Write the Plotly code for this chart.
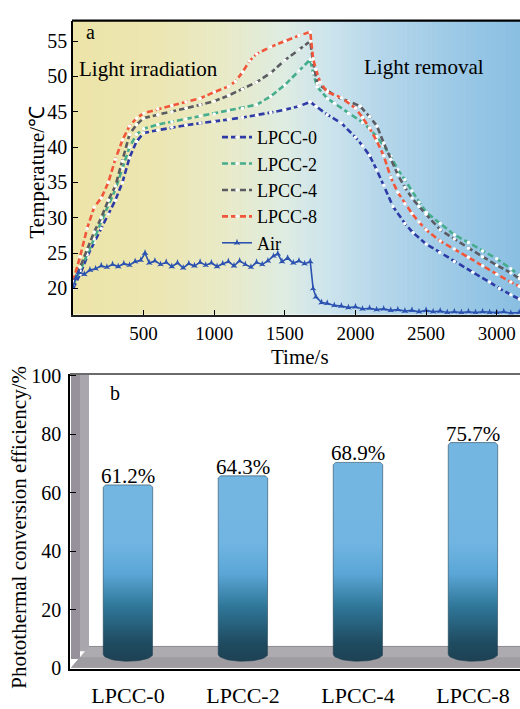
import numpy as np
import plotly.graph_objects as go

W, H = 520, 709
FONT = "Liberation Serif"


def px(x):
    return x / W


def py(y):
    return 1 - y / H


# ---------------- data: panel a ----------------
lpcc0_t = [0, 50, 100, 150, 200, 250, 300, 350, 400, 450, 500, 600, 700, 800, 900, 1000, 1100, 1200,
           1300, 1400, 1500, 1600, 1680, 1720, 1800, 1900, 2000, 2050, 2100, 2150, 2200, 2266, 2350,
           2407, 2500, 2597, 2700, 2830, 2950, 3020, 3100, 3160]
lpcc0_T = [20.0, 22.0, 24.5, 26.5, 28.5, 30.5, 32.5, 35.0, 38.5, 40.8, 42.0, 42.4, 42.8, 43.1, 43.4,
           43.6, 43.9, 44.2, 44.5, 44.9, 45.3, 45.8, 46.4, 45.8, 44.6, 43.4, 41.4, 40.2, 38.8, 36.8,
           34.6, 31.6, 29.2, 27.9, 26.3, 25.1, 23.8, 22.3, 20.9, 20.0, 19.1, 18.5]

lpcc2_t = [0, 50, 100, 150, 200, 250, 300, 350, 400, 450, 500, 600, 700, 800, 900, 1000, 1100, 1200,
           1300, 1400, 1500, 1600, 1680, 1700, 1730, 1800, 1850, 1950, 2050, 2100, 2150, 2200, 2250,
           2300, 2350, 2400, 2450, 2500, 2600, 2700, 2800, 2900, 3000, 3100, 3160]
lpcc2_T = [20.5, 22.5, 24.8, 27.0, 29.5, 31.8, 34.0, 37.0, 40.0, 41.8, 42.6, 43.2, 43.6, 44.0, 44.4,
           44.7, 45.1, 45.5, 46.0, 47.2, 48.8, 50.8, 52.4, 50.5, 48.5, 46.9, 46.2, 44.8, 43.5, 42.6,
           41.5, 40.2, 38.7, 36.8, 35.4, 33.8, 32.2, 30.8, 29.2, 27.6, 26.5, 25.3, 24.2, 22.8, 21.9]

lpcc4_t = [0, 50, 100, 150, 200, 250, 300, 350, 400, 450, 500, 600, 700, 800, 900, 1000, 1100, 1200,
           1300, 1400, 1500, 1600, 1680, 1700, 1730, 1800, 1870, 1950, 2033, 2100, 2152, 2200, 2250,
           2300, 2350, 2400, 2450, 2500, 2600, 2700, 2800, 2900, 3000, 3100, 3160]
lpcc4_T = [21.0, 23.0, 25.5, 28.0, 30.0, 32.5, 34.5, 38.0, 41.8, 43.2, 44.1, 44.6, 45.0, 45.5, 46.0,
           46.5, 47.3, 48.2, 49.2, 50.5, 52.3, 53.8, 55.0, 52.0, 49.0, 48.0, 47.1, 46.5, 45.8, 44.3,
           43.0, 40.6, 38.3, 36.1, 34.3, 32.8, 31.6, 30.5, 28.3, 27.0, 25.7, 24.5, 23.3, 22.2, 21.4]

lpcc8_t = [0, 50, 100, 150, 200, 250, 300, 350, 400, 450, 500, 600, 700, 800, 900, 1000, 1100, 1150,
           1200, 1250, 1300, 1400, 1500, 1600, 1680, 1700, 1720, 1750, 1800, 1900, 2000, 2050, 2100,
           2150, 2200, 2250, 2300, 2350, 2400, 2450, 2500, 2600, 2700, 2800, 2900, 3000, 3100, 3160]
lpcc8_T = [21.0, 24.5, 28.5, 31.5, 32.8, 35.0, 38.3, 41.0, 43.0, 44.1, 44.8, 45.4, 45.9, 46.4, 46.9,
           47.8, 48.6, 49.3, 50.6, 52.2, 53.2, 54.2, 55.0, 55.8, 56.3, 52.5, 51.0, 49.2, 47.8, 47.0,
           45.5, 44.2, 42.7, 40.9, 38.8, 35.7, 33.6, 32.0, 30.6, 29.4, 28.3, 26.7, 25.6, 24.4, 23.2,
           22.0, 20.9, 20.3]

air_t = [0, 20, 40, 80, 120, 160, 200, 240, 280, 320, 360, 400, 440, 480, 510, 540, 580, 620, 660,
         700, 740, 780, 820, 860, 900, 940, 980, 1020, 1060, 1100, 1140, 1180, 1220, 1260, 1300, 1340,
         1380, 1420, 1450, 1480, 1520, 1560, 1600, 1640, 1680, 1700, 1720, 1760, 1800, 1850, 1900,
         1950, 2000, 2050, 2100, 2150, 2200, 2250, 2300, 2350, 2400, 2450, 2500, 2550, 2600, 2650,
         2700, 2750, 2800, 2850, 2900, 2950, 3000, 3050, 3100, 3160]
air_T = [20.2, 21.5, 22.3, 22.0, 22.6, 22.8, 23.2, 23.0, 23.4, 23.1, 23.5, 23.3, 23.8, 24.0, 25.0,
         23.6, 23.9, 23.4, 23.7, 23.1, 23.6, 22.9, 23.5, 23.2, 23.7, 23.3, 23.6, 23.1, 23.5, 23.8,
         23.2, 23.9, 23.4, 23.0, 23.7, 23.4, 23.9, 24.6, 24.9, 23.8, 24.3, 23.6, 23.9, 23.5, 23.8,
         20.0, 18.8, 18.0, 17.9, 17.6, 17.5, 17.3, 17.4, 17.1, 17.2, 17.0, 17.1, 16.9, 17.0, 16.8,
         16.9, 16.7, 16.9, 16.7, 16.8, 16.6, 16.7, 16.6, 16.7, 16.6, 16.7, 16.6, 16.6, 16.7, 16.5,
         16.6]

time_ticks = [500, 1000, 1500, 2000, 2500, 3000]
temp_ticks = [20, 25, 30, 35, 40, 45, 50, 55]

# ---------------- data: panel b ----------------
samples = ["LPCC-0", "LPCC-2", "LPCC-4", "LPCC-8"]
efficiency = [61.2, 64.3, 68.9, 75.7]
eff_ticks = [0, 20, 40, 60, 80, 100]

# ---------------- figure ----------------
fig = go.Figure()

series = [
    ("LPCC-0", lpcc0_t, lpcc0_T, "#2e3aa6"),
    ("LPCC-2", lpcc2_t, lpcc2_T, "#45ad8c"),
    ("LPCC-4", lpcc4_t, lpcc4_T, "#5a5c62"),
    ("LPCC-8", lpcc8_t, lpcc8_T, "#f2563a"),
]
for name, t, T, col in series:
    fig.add_trace(go.Scatter(
        x=t, y=T, name=name, mode="lines+markers",
        line=dict(color=col, width=2.6, dash="6px,3px"),
        marker=dict(color="white", size=3.5, line=dict(width=0)),
        xaxis="x", yaxis="y"))

fig.add_trace(go.Scatter(
    x=air_t, y=air_T, name="Air", mode="lines+markers",
    line=dict(color="#2b52b0", width=1.6),
    marker=dict(color="#2b52b0", size=5, symbol="star-triangle-up"),
    xaxis="x", yaxis="y"))

# bars of panel b, drawn as cylinders with a vertical gradient
hw = 0.215
lid = 1.5
base_corner = 4.7
dip = 2.4
for i, (s, v) in enumerate(zip(samples, efficiency)):
    top = v + lid
    cx = [i - hw, i - hw, i - hw + 0.02, i + hw - 0.02, i + hw, i + hw]
    cy = [base_corner, top - 0.8, top, top, top - 0.8, base_corner]
    th = np.linspace(0, np.pi, 24)
    cx += list(i + hw * np.cos(th))
    cy += list(base_corner - dip * np.sin(th))
    fig.add_trace(go.Scatter(
        x=cx, y=cy, mode="lines", fill="toself", showlegend=False, hoverinfo="skip",
        line=dict(color="rgba(25,60,80,0.55)", width=1),
        fillgradient=dict(type="vertical", start=0, stop=55,
                          colorscale=[[0, "#1c3a49"], [0.2, "#1f4b60"], [0.42, "#2f7698"],
                                      [0.62, "#5aa6d6"], [0.8, "#70b4e1"], [1, "#74b6e2"]]),
        xaxis="x2", yaxis="y2"))
    fig.add_annotation(x=i, y=top, xref="x2", yref="y2", text=f"{v}%", showarrow=False,
                       yanchor="bottom", yshift=-5, font=dict(family=FONT, size=21, color="black"))

# ---------------- background decoration ----------------
shapes = []
stops = [(0, (236, 228, 168)), (600, (236, 230, 178)), (1100, (232, 234, 200)),
         (1500, (222, 236, 226)), (1800, (205, 228, 236)), (2200, (180, 214, 234)),
         (2700, (156, 201, 230)), (3170, (138, 191, 226))]
sx = [s[0] for s in stops]
N = 90
edges = np.linspace(0, 3170, N + 1)
for k in range(N):
    mid = 0.5 * (edges[k] + edges[k + 1])
    rgb = [int(round(np.interp(mid, sx, [s[1][c] for s in stops]))) for c in range(3)]
    shapes.append(dict(type="rect", xref="x", yref="y domain", x0=edges[k], x1=edges[k + 1] + 4,
                       y0=0, y1=1, fillcolor=f"rgb({rgb[0]},{rgb[1]},{rgb[2]})",
                       line=dict(width=0), layer="below"))

# top border of panel a
shapes.append(dict(type="line", xref="paper", yref="paper", x0=px(72), x1=1, y0=py(12), y1=py(12),
                   line=dict(color="black", width=2.2)))

# panel b 3D wall and floor
shapes.append(dict(type="rect", xref="paper", yref="paper", x0=px(71), x1=px(80), y0=py(668), y1=py(376),
                   fillcolor="#96919a", line=dict(width=0), layer="below"))
shapes.append(dict(type="rect", xref="paper", yref="paper", x0=px(80), x1=px(89), y0=py(660), y1=py(376),
                   fillcolor="#aaa6ad", line=dict(width=0), layer="below"))
floor_path = (f"M {px(71)},{py(677)} L {px(89)},{py(655)} L 1,{py(655)} L 1,{py(677)} Z")
shapes.append(dict(type="path", xref="paper", yref="paper", path=floor_path,
                   fillcolor="#aeabb0", line=dict(width=0), layer="below"))
floor_front = (f"M {px(71)},{py(677)} L {px(80)},{py(666)} L 1,{py(666)} L 1,{py(677)} Z")
shapes.append(dict(type="path", xref="paper", yref="paper", path=floor_front,
                   fillcolor="#9e9ba1", line=dict(width=0), layer="below"))
shapes.append(dict(type="line", xref="paper", yref="paper", x0=px(89), x1=1, y0=py(655), y1=py(655),
                   line=dict(color="#8d8a90", width=1), layer="below"))
# top border of panel b
shapes.append(dict(type="line", xref="paper", yref="paper", x0=px(70), x1=1, y0=py(375), y1=py(375),
                   line=dict(color="#3a3a3a", width=1.5)))

annotations = [
    dict(x=px(84), y=py(24), text="a", xanchor="left", yanchor="middle", size=20),
    dict(x=px(77), y=py(62), text="Light irradiation", xanchor="left", yanchor="middle", size=21),
    dict(x=px(362), y=py(60), text="Light removal", xanchor="left", yanchor="middle", size=21),
    dict(x=px(300), y=py(358), text="Time/s", xanchor="center", yanchor="middle", size=21),
    dict(x=px(37), y=py(168), text="Temperature/\u2103", textangle=-90, xanchor="center",
         yanchor="middle", size=21),
    dict(x=px(108), y=py(395), text="b", xanchor="left", yanchor="middle", size=20),
    dict(x=px(19), y=py(533), text="Photothermal conversion efficiency/%", textangle=-90,
         xanchor="center", yanchor="middle", size=21),
]
for a in annotations:
    sz = a.pop("size")
    a.update(xref="paper", yref="paper", showarrow=False,
             font=dict(family=FONT, size=sz, color="black"))
    fig.add_annotation(**a)

axis_font = dict(family=FONT, size=20, color="black")
fig.update_layout(
    width=W, height=H, margin=dict(l=0, r=0, t=0, b=0),
    paper_bgcolor="white", plot_bgcolor="white",
    font=dict(family=FONT, size=20, color="black"),
    shapes=shapes,
    showlegend=True,
    legend=dict(x=px(217), y=py(113), xanchor="left", yanchor="top", bgcolor="rgba(0,0,0,0)",
                font=dict(family=FONT, size=18, color="black"), itemwidth=30),
    xaxis=dict(domain=[px(73), 1], range=[0, 3165], anchor="y", tickvals=time_ticks,
               ticks="inside", ticklen=5, tickcolor="black", showline=True, linecolor="#222",
               linewidth=2, showgrid=False, zeroline=False,
               tickfont=dict(family=FONT, size=19, color="black"), ticklabelstandoff=1),
    yaxis=dict(domain=[py(314), py(12)], range=[16.3, 57.9], anchor="x", tickvals=temp_ticks,
               ticks="inside", ticklen=5, tickcolor="black", showline=True, linecolor="black",
               linewidth=1.5, showgrid=False, zeroline=False, tickfont=axis_font),
    xaxis2=dict(domain=[px(70), 1], range=[-0.504, 3.409], anchor="y2",
                tickvals=list(range(len(samples))), ticktext=samples, ticks="",
                showline=True, linecolor="black", linewidth=1.5, showgrid=False, zeroline=False,
                tickfont=dict(family=FONT, size=22, color="black"), ticklabelstandoff=6),
    yaxis2=dict(domain=[py(678), py(375)], range=[-0.3, 100.7], anchor="x2", tickvals=eff_ticks,
                ticks="inside", ticklen=6, tickcolor="black", showline=True, linecolor="black",
                linewidth=1.5, showgrid=False, zeroline=False, tickfont=axis_font,
                ticklabelstandoff=3),
)

fig.write_html("out.html", config={"displayModeBar": False},
               post_script="document.body.style.margin='0';")
